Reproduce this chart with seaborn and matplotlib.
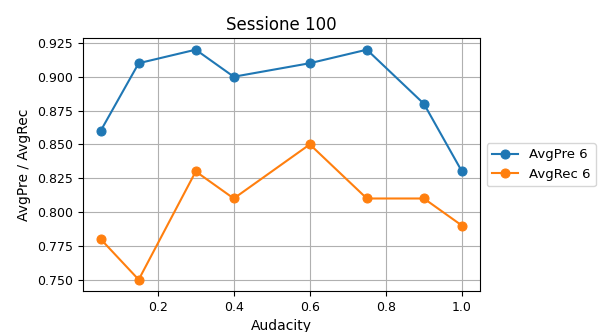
import matplotlib
matplotlib.use("Agg")
import matplotlib.pyplot as plt
import seaborn as sns
import pandas as pd

audacity = [0.05, 0.15, 0.3, 0.4, 0.6, 0.75, 0.9, 1.0]
avg_pre = [0.86, 0.91, 0.92, 0.90, 0.91, 0.92, 0.88, 0.83]
avg_rec = [0.78, 0.75, 0.83, 0.81, 0.85, 0.81, 0.81, 0.79]
series_names = ["AvgPre 6", "AvgRec 6"]

df = pd.DataFrame({
    "Audacity": audacity * 2,
    "value": avg_pre + avg_rec,
    "serie": [series_names[0]] * len(audacity) + [series_names[1]] * len(audacity),
})

fig = plt.figure(figsize=(6.03, 3.32), dpi=100)
ax = fig.add_axes([0.137, 0.123, 0.659, 0.762])
sns.lineplot(data=df, x="Audacity", y="value", hue="serie", marker="o",
             markeredgecolor=None, palette=["#1f77b4", "#ff7f0e"], ax=ax,
             linewidth=1.5, markersize=6.5)
ax.grid(True, color="#b0b0b0", linewidth=0.8)
ax.set_title("Sessione 100", fontsize=12)
ax.set_xlabel("Audacity", fontsize=10)
ax.set_ylabel("AvgPre / AvgRec", fontsize=10)
ax.tick_params(labelsize=9)
ax.set_xticks([0.2, 0.4, 0.6, 0.8, 1.0])
ax.set_yticks([0.75, 0.775, 0.8, 0.825, 0.85, 0.875, 0.9, 0.925])
ax.set_yticklabels(["0.750", "0.775", "0.800", "0.825", "0.850", "0.875", "0.900", "0.925"])
ax.legend(loc="center left", bbox_to_anchor=(1.0, 0.5), fontsize=9.5, title=None)
fig.savefig("out.png", dpi=100)
